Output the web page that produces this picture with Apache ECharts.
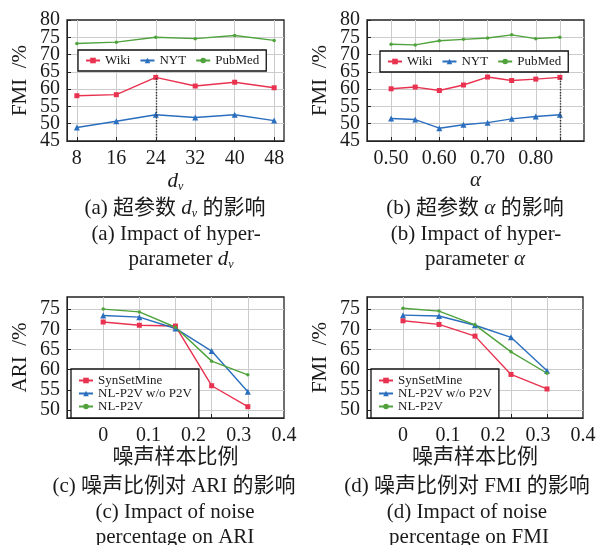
<!DOCTYPE html>
<html><head><meta charset="utf-8">
<script src="https://cdn.jsdelivr.net/npm/echarts@6/dist/echarts.min.js"></script>
<style>html,body{margin:0;padding:0;background:#fff}#c{width:603px;height:545px}</style>
</head><body><div id="c"></div>
<script>
// ---- data ----
const dvValues = [8, 16, 24, 32, 40, 48];
const wikiDv = [58.1, 58.4, 63.4, 60.9, 62.0, 60.4];
const nytDv = [48.9, 50.7, 52.6, 51.8, 52.6, 50.9];
const pubmedDv = [73.2, 73.6, 75.0, 74.6, 75.5, 74.1];

const alphaValues = [0.50, 0.55, 0.60, 0.65, 0.70, 0.75, 0.80, 0.85];
const wikiAlpha = [60.1, 60.6, 59.6, 61.2, 63.5, 62.5, 62.9, 63.4];
const nytAlpha = [51.5, 51.2, 48.7, 49.7, 50.3, 51.4, 52.1, 52.6];
const pubmedAlpha = [73.0, 72.8, 74.0, 74.4, 74.8, 75.7, 74.6, 75.0];

const noiseValues = [0, 0.08, 0.16, 0.24, 0.32];
const synAri = [71.8, 71.0, 70.8, 56.0, 50.8];
const woAri = [73.4, 73.0, 70.2, 64.6, 54.5];
const nlAri = [75.0, 74.3, 70.5, 62.1, 58.7];
const synFmi = [72.1, 71.2, 68.3, 58.8, 55.2];
const woFmi = [73.5, 73.3, 71.0, 68.0, 59.7];
const nlFmi = [75.2, 74.5, 71.1, 64.4, 59.1];

// ---- tick labels ----
const dvTicks = [8, 16, 24, 32, 40, 48];
const alphaGridTicks = [0.50, 0.55, 0.60, 0.65, 0.70, 0.75, 0.80, 0.85];
const alphaLabels = [0.5, 0.6, 0.7, 0.8];
const noiseLabels = [0, 0.1, 0.2, 0.3, 0.4];
const fmiTicks = [45, 50, 55, 60, 65, 70, 75, 80];
const fmiInnerTicks = [50, 55, 60, 65, 70, 75];
const fmiLabelsOdd = [45, 55, 65, 75];
const fmiLabelsEven = [50, 60, 70, 80];
const scoreTicks = [50, 55, 60, 65, 70, 75];

const names1 = ['Wiki', 'NYT', 'PubMed'];
const names2 = ['SynSetMine', 'NL-P2V w/o P2V', 'NL-P2V'];

// ---- style ----
const SERIF = "'Liberation Serif', 'Noto Sans CJK SC', serif";
const TXT = '#1a1a1a';
const RED = '#e8324f', BLUE = '#2a6ebe', GREEN = '#4fa23c';
const GRIDC = '#cccccc';

function zip(xs, ys) { return xs.map((x, i) => [x, ys[i]]); }

const grids = [
  {left: 67, top: 20, width: 217, height: 121},
  {left: 367, top: 20, width: 217, height: 121},
  {left: 67, top: 297, width: 217, height: 121},
  {left: 367, top: 297, width: 216, height: 121}
].map(g => Object.assign({show: true, borderColor: '#222', borderWidth: 1.3}, g));

function tickStyle() { return {show: true, inside: true, length: 4, lineStyle: {color: '#222', width: 1}}; }
function labelBase() { return {fontFamily: SERIF, fontSize: 20, color: TXT, showMinLabel: true, showMaxLabel: true}; }

// main axes: labels, names, inward ticks
function xAxis(idx, min, max, ticks, labels, fmt, name, nameRich) {
  return {
    type: 'value', gridIndex: idx, min: min, max: max, position: 'bottom',
    axisLine: {show: false, onZero: false},
    axisTick: Object.assign({customValues: ticks}, tickStyle()),
    splitLine: {show: false},
    axisLabel: Object.assign(labelBase(), {customValues: labels, margin: 8, formatter: fmt}),
    name: name, nameLocation: 'middle', nameGap: idx < 2 ? 29 : 27,
    nameTextStyle: {fontFamily: SERIF, fontSize: 21, color: TXT, rich: nameRich}
  };
}
function yAxis(idx, min, max, name, ticks, labels) {
  return {
    type: 'value', gridIndex: idx, min: min, max: max, position: 'left',
    axisLine: {show: false, onZero: false},
    axisTick: Object.assign({customValues: ticks}, tickStyle()),
    splitLine: {show: false},
    axisLabel: Object.assign(labelBase(), {customValues: labels, margin: 7}),
    name: name, nameLocation: 'middle', nameRotate: 90, nameGap: 36,
    nameTextStyle: {fontFamily: SERIF, fontSize: 21, color: TXT}
  };
}
// second label-only axis (keeps densely packed labels from being auto-hidden)
function yLabelAxis(idx, min, max, labels) {
  return {
    type: 'value', gridIndex: idx, min: min, max: max, position: 'left', offset: 0,
    axisLine: {show: false, onZero: false}, axisTick: {show: false}, splitLine: {show: false},
    axisLabel: Object.assign(labelBase(), {customValues: labels, margin: 7})
  };
}
// grid-line axes
function gridAxis(idx, min, max, ticks, pos) {
  return {
    type: 'value', gridIndex: idx, min: min, max: max, position: pos, offset: 0,
    axisLine: {onZero: false, lineStyle: {color: '#222'}},
    axisTick: {customValues: ticks, length: 0},
    axisLabel: {show: false},
    splitLine: {show: true, lineStyle: {color: GRIDC}}
  };
}

const subRich = {
  i: {fontFamily: SERIF, fontStyle: 'italic', fontSize: 21, color: TXT},
  s: {fontFamily: SERIF, fontStyle: 'italic', fontSize: 12, color: TXT, padding: [11, 0, 0, 0]}
};

const xAxes = [
  xAxis(0, 6, 50, dvTicks, dvTicks, v => String(v), '{i|d}{s|v}', subRich),
  xAxis(1, 0.45, 0.9, alphaGridTicks, alphaLabels, v => v.toFixed(2), '{i|α}', subRich),
  xAxis(2, -0.08, 0.4, noiseValues, noiseLabels, v => (v === 0 ? '0' : v.toFixed(1)), '噪声样本比例', null),
  xAxis(3, -0.08, 0.4, noiseValues, noiseLabels, v => (v === 0 ? '0' : v.toFixed(1)), '噪声样本比例', null),
  gridAxis(0, 6, 50, dvTicks, 'bottom'),
  gridAxis(1, 0.45, 0.9, alphaGridTicks, 'bottom'),
  gridAxis(2, -0.08, 0.4, noiseValues, 'bottom'),
  gridAxis(3, -0.08, 0.4, noiseValues, 'bottom')
];
const yAxes = [
  yAxis(0, 45, 80, 'FMI  /%', fmiTicks, fmiLabelsOdd),
  yAxis(1, 45, 80, 'FMI  /%', fmiTicks, fmiLabelsOdd),
  yAxis(2, 48, 78, 'ARI  /%', scoreTicks, scoreTicks),
  yAxis(3, 48, 78, 'FMI  /%', scoreTicks, scoreTicks),
  yLabelAxis(0, 45, 80, fmiLabelsEven),
  yLabelAxis(1, 45, 80, fmiLabelsEven),
  gridAxis(0, 45, 80, fmiInnerTicks, 'left'),
  gridAxis(1, 45, 80, fmiInnerTicks, 'left'),
  gridAxis(2, 48, 78, scoreTicks, 'left'),
  gridAxis(3, 48, 78, scoreTicks, 'left')
];

const markers = [
  {color: RED, symbol: 'rect', symbolSize: 5},
  {color: BLUE, symbol: 'triangle', symbolSize: 6},
  {color: GREEN, symbol: 'circle', symbolSize: 3.5}
];
function line(name, idx, data, k, extra) {
  const m = markers[k];
  return Object.assign({
    type: 'line', name: name, xAxisIndex: idx, yAxisIndex: idx, data: data,
    symbol: m.symbol, symbolSize: m.symbolSize, showSymbol: true,
    lineStyle: {color: m.color, width: 1.4},
    itemStyle: {color: m.color}
  }, extra || {});
}
function dotted(x, yBottom, yTop) {
  return {
    silent: true, symbol: ['none', 'none'], label: {show: false},
    lineStyle: {type: 'dotted', color: '#333', width: 1.4},
    data: [[{coord: [x, yBottom]}, {coord: [x, yTop]}]]
  };
}

const series = [
  line('Wiki', 0, zip(dvValues, wikiDv), 0, {markLine: dotted(dvValues[2], 45, wikiDv[2])}),
  line('NYT', 0, zip(dvValues, nytDv), 1),
  line('PubMed', 0, zip(dvValues, pubmedDv), 2),
  line('Wiki', 1, zip(alphaValues, wikiAlpha), 0, {markLine: dotted(alphaValues[7], 45, wikiAlpha[7])}),
  line('NYT', 1, zip(alphaValues, nytAlpha), 1),
  line('PubMed', 1, zip(alphaValues, pubmedAlpha), 2),
  line('SynSetMine', 2, zip(noiseValues, synAri), 0),
  line('NL-P2V w/o P2V', 2, zip(noiseValues, woAri), 1),
  line('NL-P2V', 2, zip(noiseValues, nlAri), 2),
  line('SynSetMine', 3, zip(noiseValues, synFmi), 0),
  line('NL-P2V w/o P2V', 3, zip(noiseValues, woFmi), 1),
  line('NL-P2V', 3, zip(noiseValues, nlFmi), 2)
];

const legendBase = {
  selectedMode: false, itemWidth: 14, itemHeight: 7,
  borderColor: '#111', borderWidth: 1.3, backgroundColor: '#fff', borderRadius: 0,
  textStyle: {fontFamily: SERIF, fontSize: 13, color: TXT}
};
const legends = [
  Object.assign({}, legendBase, {data: names1, left: 78, top: 50, orient: 'horizontal', padding: [4, 7], itemGap: 9}),
  Object.assign({}, legendBase, {data: names1, left: 380, top: 51, orient: 'horizontal', padding: [4, 7], itemGap: 9}),
  Object.assign({}, legendBase, {data: names2, left: 71, top: 369, orient: 'vertical', padding: [5, 7], itemGap: 0,
    textStyle: {fontFamily: SERIF, fontSize: 13, color: TXT, lineHeight: 11}}),
  Object.assign({}, legendBase, {data: names2, left: 371, top: 369, orient: 'vertical', padding: [5, 7], itemGap: 0,
    textStyle: {fontFamily: SERIF, fontSize: 13, color: TXT, lineHeight: 11}})
];

const capRich = {
  i: {fontFamily: SERIF, fontStyle: 'italic', fontSize: 21, fill: TXT},
  s: {fontFamily: SERIF, fontStyle: 'italic', fontSize: 12, fill: TXT, padding: [11, 0, 0, 0]}
};
function cap(text, x, y) {
  return {
    type: 'text', x: x, y: y, silent: true,
    style: {text: text, fontFamily: SERIF, fontSize: 21, fill: TXT, align: 'center', verticalAlign: 'middle', rich: capRich}
  };
}
const captions = [
  cap('(a) 超参数 {i|d}{s|v} 的影响', 175, 208),
  cap('(a) Impact of hyper-', 176, 234),
  cap('parameter {i|d}{s|v}', 181, 259),
  cap('(b) 超参数 {i|α} 的影响', 475, 208),
  cap('(b) Impact of hyper-', 476, 234),
  cap('parameter {i|α}', 475, 259),
  cap('(c) 噪声比例对 ARI 的影响', 174, 486),
  cap('(c) Impact of noise', 175, 512),
  cap('percentage on ARI', 175, 537),
  cap('(d) 噪声比例对 FMI 的影响', 467, 486),
  cap('(d) Impact of noise', 467, 512),
  cap('percentage on FMI', 469, 537)
];

const chart = echarts.init(document.getElementById('c'), null, {renderer: 'canvas'});
chart.setOption({
  animation: false,
  grid: grids,
  xAxis: xAxes,
  yAxis: yAxes,
  legend: legends,
  series: series,
  graphic: captions
});
</script>
</body></html>
